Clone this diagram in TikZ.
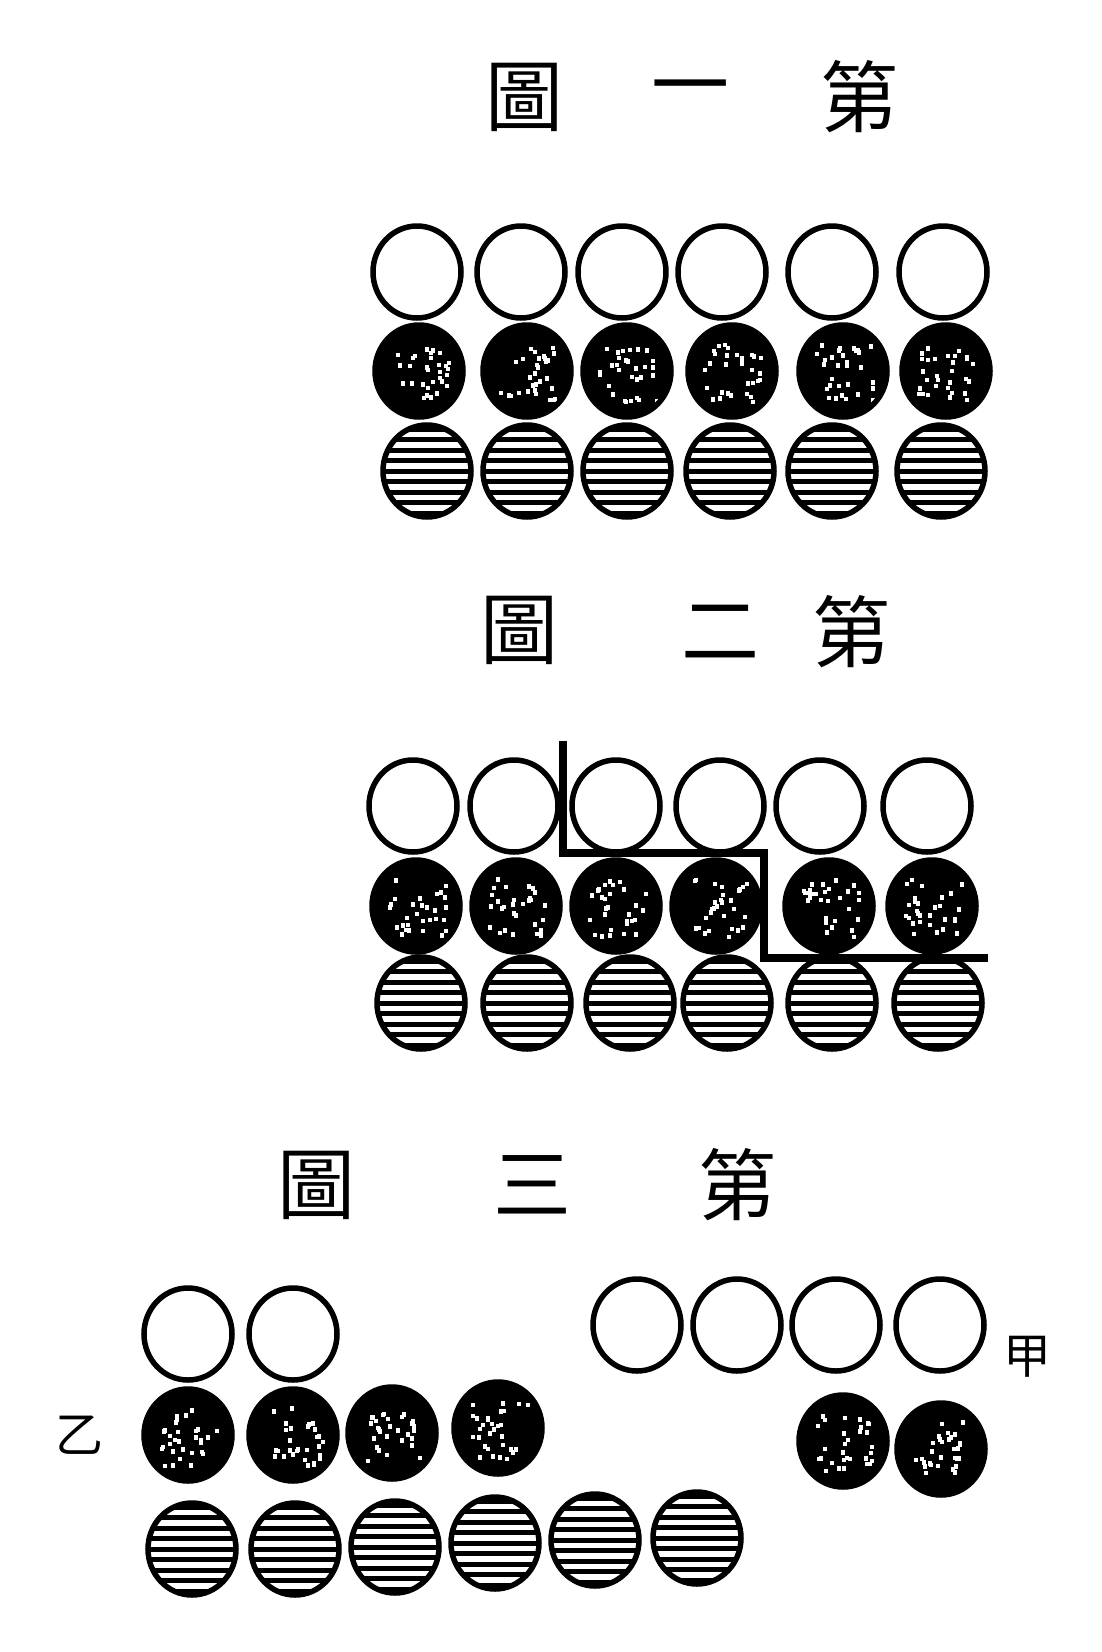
\documentclass[tikz,border=0pt]{standalone}
\usepackage{fontspec}
\newfontfamily\cjk{Noto Sans CJK TC}
\usetikzlibrary{shapes.geometric}
\pgfmathsetseed{11}
\tikzset{
  bead/.style={ellipse, inner sep=0pt, minimum width=88pt, minimum height=92pt, draw=black, line width=5.5pt},
  openbead/.style={bead, fill=white},
  darkbead/.style={bead, fill=black, path picture={
      \foreach \n in {1,...,30}{
        \fill[white] ([xshift={rand*29pt}, yshift={rand*29pt}]path picture bounding box.center) rectangle +(4pt,-4.5pt);
      }}},
  hatchbead/.style={bead, fill=white, path picture={
      \foreach \k in {-4,...,4}{
        \draw[line width=5pt] ([yshift=\k*10.5pt]path picture bounding box.west) -- ([yshift=\k*10.5pt]path picture bounding box.east);
      }}},
  titlechar/.style={inner sep=0pt, font=\cjk\fontsize{78}{78}\selectfont},
  smallchar/.style={inner sep=0pt, font=\cjk\fontsize{48}{48}\selectfont},
  bar/.style={line width=8pt, line join=miter}
}
\begin{document}
\begin{tikzpicture}[x=1pt, y=-1pt]
\useasboundingbox[fill=white] (0,0) rectangle (1102,1652);

% ---------- Figure 1 ----------
\node[titlechar] (t1a) at (524,97) {圖};
\node[titlechar] (t1b) at (690,97) {一};
\node[titlechar] (t1c) at (859,97) {第};

\foreach \x [count=\i] in {417,521,622,722,832,943}
  \node[openbead] (f1o\i) at (\x,272) {};
\foreach \x [count=\i] in {419,527,627,732,843,946}
  \node[darkbead] (f1d\i) at (\x,371) {};
\foreach \x [count=\i] in {427,527,627,730,832,941}
  \node[hatchbead] (f1h\i) at (\x,471) {};

% ---------- Figure 2 ----------
\node[titlechar] (t2a) at (519,630) {圖};
\node[titlechar] (t2b) at (720,632) {二};
\node[titlechar] (t2c) at (851,632) {第};

\foreach \x [count=\i] in {413,514,616,720,820,927}
  \node[openbead] (f2o\i) at (\x,806) {};
\foreach \x [count=\i] in {416,516,616,716,829,932}
  \node[darkbead] (f2d\i) at (\x,906) {};
\foreach \x [count=\i] in {421,527,630,727,832,938}
  \node[hatchbead] (f2h\i) at (\x,1003) {};

\coordinate (p1) at (563,741);
\coordinate (p2) at (563,853);
\coordinate (p3) at (764,853);
\coordinate (p4) at (764,958);
\coordinate (p5) at (988,958);
\draw[bar] (p1) -- (p2) -- (p3) -- (p4) -- (p5);

% ---------- Figure 3 ----------
\node[titlechar] (t3a) at (316,1185) {圖};
\node[titlechar] (t3b) at (532,1185) {三};
\node[titlechar] (t3c) at (737,1185) {第};

\node[openbead] (f3lo1) at (188,1334) {};
\node[openbead] (f3lo2) at (293,1334) {};
\node[openbead] (f3ro1) at (637,1325) {};
\node[openbead] (f3ro2) at (737,1325) {};
\node[openbead] (f3ro3) at (836,1325) {};
\node[openbead] (f3ro4) at (940,1325) {};
\node[smallchar] (jia) at (1027,1357) {甲};

\node[smallchar] (yi) at (79,1435) {乙};
\node[darkbead] (f3ld1) at (188,1435) {};
\node[darkbead] (f3ld2) at (293,1435) {};
\node[darkbead] (f3ld3) at (392,1433) {};
\node[darkbead] (f3ld4) at (498,1428) {};
\node[darkbead] (f3rd1) at (843,1441) {};
\node[darkbead] (f3rd2) at (941,1449) {};

\node[hatchbead] (f3h1) at (192,1549) {};
\node[hatchbead] (f3h2) at (295,1549) {};
\node[hatchbead] (f3h3) at (395,1547) {};
\node[hatchbead] (f3h4) at (495,1543) {};
\node[hatchbead] (f3h5) at (595,1540) {};
\node[hatchbead] (f3h6) at (697,1538) {};
\end{tikzpicture}
\end{document}
